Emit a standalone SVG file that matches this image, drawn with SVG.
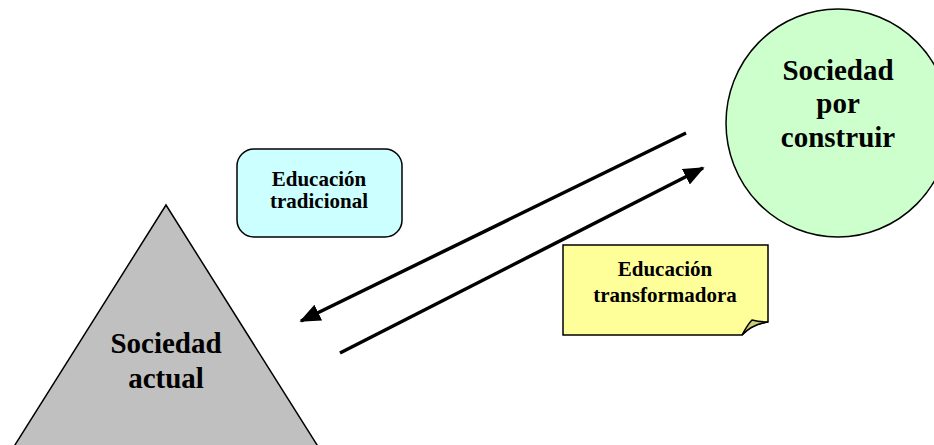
<svg xmlns="http://www.w3.org/2000/svg" width="934" height="445" viewBox="0 0 934 445">
<style>
text{font-family:"Liberation Serif","Times New Roman",serif;font-weight:bold;fill:#000;text-anchor:middle}
.big{font-size:29px}
.small{font-size:21px}
.shape{stroke:#000;stroke-width:1.5}
.conn{stroke:#000;stroke-width:3.5;fill:none}
</style>
<defs>
<marker id="ah" markerWidth="6" markerHeight="5" refX="5.5" refY="2.5" orient="auto" markerUnits="strokeWidth">
<path d="M0,0 L6,2.5 L0,5 Z" fill="#000"/>
</marker>
</defs>
<rect width="934" height="445" fill="#fff"/>
<g id="sociedad-actual">
<polygon class="shape" points="166,205 8,456 324,456" fill="#C0C0C0"/>
<text class="big" x="166" y="353">Sociedad</text>
<text class="big" x="166" y="388">actual</text>
</g>
<g id="sociedad-por-construir">
<ellipse class="shape" cx="838" cy="123" rx="112" ry="114" fill="#CCFFCC"/>
<text class="big" x="838" y="80">Sociedad</text>
<text class="big" x="838" y="113">por</text>
<text class="big" x="838" y="147">construir</text>
</g>
<g id="educacion-tradicional">
<rect class="shape" x="237" y="149" width="165" height="88" rx="17" fill="#CCFFFF"/>
<text class="small" x="319" y="186">Educación</text>
<text class="small" x="319" y="208">tradicional</text>
</g>
<g id="educacion-transformadora">
<path class="shape" d="M563,245 H768 V322 Q752,324 742,335 H563 Z" fill="#FFFF99"/>
<path class="shape" d="M742,335 Q748,324 752,320 Q760,322 768,322 Q752,324 742,335 Z" fill="#CCCC77"/>
<text class="small" x="665" y="276">Educación</text>
<text class="small" x="665" y="302">transformadora</text>
</g>
<g id="connectors">
<line class="conn" x1="686" y1="133" x2="301" y2="321" marker-end="url(#ah)"/>
<line class="conn" x1="340" y1="353" x2="703" y2="168" marker-end="url(#ah)"/>
</g>
</svg>
